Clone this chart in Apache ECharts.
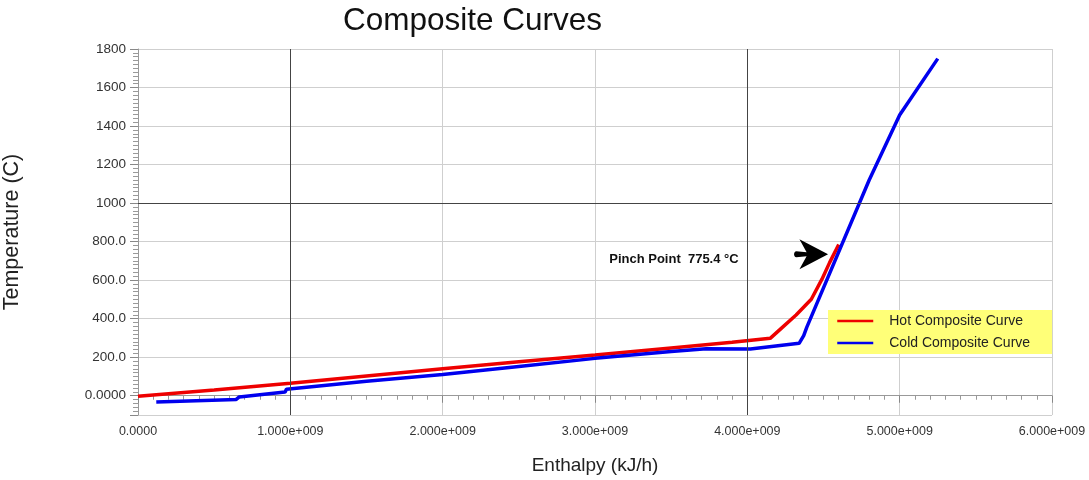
<!DOCTYPE html>
<html>
<head>
<meta charset="utf-8">
<title>Composite Curves</title>
<script src="https://cdn.jsdelivr.net/npm/echarts@6/dist/echarts.min.js"></script>
<style>
  html, body { margin: 0; padding: 0; background: #fff; }
  #chart { width: 1089px; height: 480px; }
</style>
</head>
<body>
<div id="chart"></div>
<script>
// hot composite curve (enthalpy kJ/h, temperature C)
const hotEnthalpy = [0, 0.5e9, 1.0e9, 1.5e9, 2.0e9, 2.5e9, 3.0e9, 3.5e9, 3.9e9, 4.15e9, 4.23e9, 4.32e9, 4.42e9, 4.49e9, 4.54e9, 4.6e9]
const hotTemp = [-3, 30, 65, 103, 140, 176, 211, 248, 278, 298, 355, 419, 501, 605, 691, 785]

// cold composite curve
const coldEnthalpy = [0.12e9, 0.645e9, 0.665e9, 0.965e9, 0.975e9, 1.5e9, 2.0e9, 2.5e9, 3.0e9, 3.5e9, 3.73e9, 4.02e9, 4.34e9, 4.37e9, 4.39e9, 4.8e9, 5.0e9, 5.25e9]
const coldTemp = [-33, -19, -6, 19, 34, 75, 110, 152, 194, 230, 244, 243, 272, 312, 355, 1120, 1457, 1750]

const xTickLabels = ['0.0000', '1.000e+009', '2.000e+009', '3.000e+009', '4.000e+009', '5.000e+009', '6.000e+009']
const yTickLabels = ['0.0000', '200.0', '400.0', '600.0', '800.0', '1000', '1200', '1400', '1600', '1800']

// darker reference lines
const darkX = [1e9, 4e9]
const darkY = [1000]

// pinch annotation
const pinchTemp = 775.4
const pinchTextAt = [3.09e9, 708]
const pinchArrowAt = [4.53e9, 734]

const chart = echarts.init(document.getElementById('chart'))

const zip = (xs, ys) => xs.map((x, i) => [x, ys[i]])

chart.setOption({
  animation: false,
  title: {
    text: 'Composite Curves',
    left: 338,
    top: 0,
    textStyle: {
      fontFamily: 'Liberation Sans',
      fontSize: 31.5,
      fontWeight: 'normal',
      color: '#111'
    }
  },
  grid: {
    left: 138,
    right: 37,
    top: 49,
    bottom: 65,
    outerBoundsMode: 'none'
  },
  legend: {
    data: ['Hot Composite Curve', 'Cold Composite Curve'],
    orient: 'vertical',
    left: 828,
    top: 310,
    backgroundColor: '#ffff78',
    padding: [4, 22, 4, 8],
    itemWidth: 36,
    itemHeight: 14,
    itemGap: 8,
    itemStyle: { opacity: 0 },
    lineStyle: { width: 2.5, opacity: 1 },
    textStyle: {
      fontFamily: 'Liberation Sans',
      fontSize: 14,
      color: '#222',
      padding: [0, 0, 0, 11]
    }
  },
  xAxis: {
    type: 'value',
    min: 0,
    max: 6e9,
    interval: 1e9,
    name: 'Enthalpy (kJ/h)',
    nameLocation: 'middle',
    nameGap: 41,
    nameTextStyle: { fontFamily: 'Liberation Sans', fontSize: 19, color: '#222' },
    axisLine: { show: true, lineStyle: { color: '#999', width: 1 } },
    axisTick: { show: true, length: 7, lineStyle: { color: '#888' } },
    minorTick: { show: true, splitNumber: 10, length: 4, lineStyle: { color: '#999' } },
    axisLabel: {
      margin: 10,
      fontFamily: 'Liberation Sans',
      fontSize: 12.5,
      color: '#333',
      formatter: v => xTickLabels[Math.round(v / 1e9)]
    },
    splitLine: { show: true, lineStyle: { color: '#cfcfcf', width: 1 } }
  },
  yAxis: {
    type: 'value',
    min: -100,
    max: 1800,
    minInterval: 200,
    maxInterval: 200,
    name: 'Temperature (C)',
    nameLocation: 'middle',
    nameGap: 115,
    nameTextStyle: { fontFamily: 'Liberation Sans', fontSize: 21.5, color: '#222' },
    axisLine: { show: true, lineStyle: { color: '#999', width: 1 } },
    axisTick: { show: true, length: 8, lineStyle: { color: '#888' } },
    minorTick: { show: true, splitNumber: 10, length: 5, lineStyle: { color: '#999' } },
    axisLabel: {
      margin: 12,
      fontFamily: 'Liberation Sans',
      fontSize: 13.5,
      color: '#333',
      formatter: v => (v < 0 ? '' : yTickLabels[Math.round(v / 200)])
    },
    splitLine: { show: true, lineStyle: { color: '#cfcfcf', width: 1 } }
  },
  series: [
    {
      name: 'refs',
      type: 'line',
      data: [],
      silent: true,
      z: 1,
      markLine: {
        silent: true,
        symbol: 'none',
        label: { show: false },
        lineStyle: { color: '#444', width: 1, type: 'solid' },
        emphasis: { disabled: true },
        data: darkX.map(v => ({ xAxis: v })).concat(darkY.map(v => ({ yAxis: v })))
      }
    },
    {
      name: 'Hot Composite Curve',
      type: 'line',
      symbol: 'none',
      z: 3,
      color: '#ee0000',
      lineStyle: { color: '#ee0000', width: 3.5 },
      data: zip(hotEnthalpy, hotTemp),
      markPoint: {
        silent: true,
        data: [
          {
            coord: pinchTextAt,
            symbol: 'circle',
            symbolSize: 1,
            itemStyle: { color: 'rgba(0,0,0,0)' },
            label: {
              show: true,
              position: 'right',
              distance: 0,
              fontFamily: 'Liberation Sans',
              fontSize: 13,
              fontWeight: 'bold',
              color: '#111',
              formatter: 'Pinch Point  ' + pinchTemp + ' °C'
            }
          },
          {
            coord: pinchArrowAt,
            symbol: 'path://M34 15 L6 0 L13 13 L3 12 C0 12 0 18 3 18 L13 17 L6 30 Z',
            symbolSize: [34, 30],
            symbolOffset: [-17, 0],
            itemStyle: { color: '#000' },
            label: { show: false }
          }
        ]
      }
    },
    {
      name: 'Cold Composite Curve',
      type: 'line',
      symbol: 'none',
      z: 4,
      color: '#0000ee',
      lineStyle: { color: '#0000ee', width: 3.5 },
      data: zip(coldEnthalpy, coldTemp)
    }
  ]
})
</script>
</body>
</html>
